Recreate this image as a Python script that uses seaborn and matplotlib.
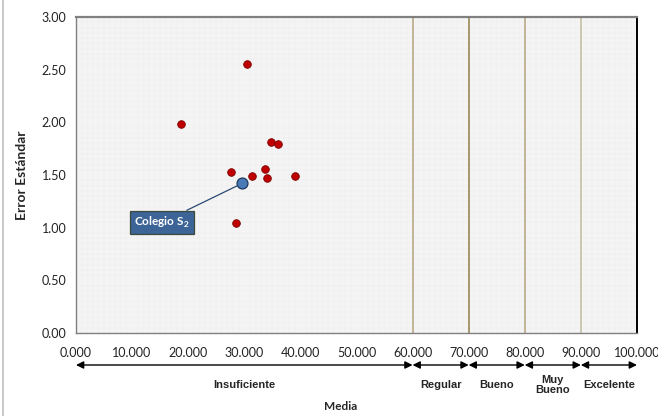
import matplotlib
matplotlib.use("Agg")
import matplotlib.pyplot as plt
import seaborn as sns
import pandas as pd
from matplotlib.lines import Line2D
from matplotlib.ticker import MultipleLocator

# Colegios: media y error estándar
media = [18.7, 30.5, 34.8, 36.0, 27.6, 31.4, 33.7, 34.1, 39.0, 28.5]
error_est = [1.98, 2.55, 1.81, 1.79, 1.53, 1.49, 1.56, 1.47, 1.49, 1.04]

# Colegio destacado
destacado_nombre = "Colegio S$_\\mathregular{2}$"
destacado_media = 29.6
destacado_error = 1.42

# Niveles de desempeño
limites = [0, 60, 70, 80, 90, 100]
niveles = ["Insuficiente", "Regular", "Bueno", "Muy\nBueno", "Excelente"]
x_ticks = [0, 10, 20, 30, 40, 50, 60, 70, 80, 90, 100]
x_tick_labels = ["0.000", "10.000", "20.000", "30.000", "40.000", "50.000",
                 "60.000", "70.000", "80.000", "90.000", "100.000"]
y_ticks = [0.0, 0.5, 1.0, 1.5, 2.0, 2.5, 3.0]
y_tick_labels = ["0.00", "0.50", "1.00", "1.50", "2.00", "2.50", "3.00"]

sns.set_theme(style="white")
plt.rcParams["font.family"] = ["Lato", "DejaVu Sans"]

fig = plt.figure(figsize=(6.58, 4.16), dpi=100)
ax = fig.add_axes([0.1155, 0.1995, 0.8525, 0.7595])
ax.set_facecolor("#f4f4f4")

df = pd.DataFrame({"Media": media, "Error": error_est})
sns.scatterplot(data=df, x="Media", y="Error", ax=ax, color="#c00000",
                edgecolor="#7a0000", linewidth=0.6, s=30, zorder=4)
sns.scatterplot(x=[destacado_media], y=[destacado_error], ax=ax,
                color="#4a7ab5", edgecolor="#1f3a5f", linewidth=0.9, s=62,
                zorder=5)

# Líneas divisorias de niveles
line_colors = ["#b3a47a", "#8c7f45", "#b3a47a", "#c2bc9a"]
for lim, c in zip(limites[1:-1], line_colors):
    ax.axvline(lim, color=c, lw=1.1, zorder=2)

ax.set_xlim(0, 100)
ax.set_ylim(0, 3)
ax.set_xticks(x_ticks)
ax.set_xticklabels(x_tick_labels)
ax.set_yticks(y_ticks)
ax.set_yticklabels(y_tick_labels)
ax.xaxis.set_minor_locator(MultipleLocator(1))
ax.yaxis.set_minor_locator(MultipleLocator(0.05))
ax.grid(which="minor", color="#ededed", lw=0.35, zorder=0)
ax.grid(which="major", visible=False)
ax.set_axisbelow(True)

ax.tick_params(axis="both", which="major", direction="out", length=4,
               width=0.8, color="#808080", labelsize=9, labelcolor="#222222")
ax.tick_params(axis="both", which="minor", length=0)
ax.tick_params(axis="x", pad=6)
ax.tick_params(axis="y", pad=3)

for side in ["left", "bottom", "top"]:
    ax.spines[side].set_color("#808080")
    ax.spines[side].set_linewidth(1.0)
ax.spines["top"].set_linewidth(1.6)
ax.spines["right"].set_color("#000000")
ax.spines["right"].set_linewidth(1.4)

ax.set_xlabel("")
ax.set_ylabel("Error Estándar", fontsize=10, fontweight="bold", labelpad=10)

# Flechas de rango y nombres de nivel
arrow_y = 1 - 365 / 416
label_y = 1 - 385 / 416
for a, b, nombre in zip(limites[:-1], limites[1:], niveles):
    ax.annotate("", xy=(a, arrow_y), xytext=(b, arrow_y),
                xycoords=("data", "figure fraction"),
                textcoords=("data", "figure fraction"),
                arrowprops=dict(arrowstyle="<|-|>", color="black", lw=1.0,
                                mutation_scale=11, shrinkA=0, shrinkB=0),
                annotation_clip=False)
    ax.annotate(nombre, xy=((a + b) / 2, label_y),
                xycoords=("data", "figure fraction"),
                ha="center", va="center", fontsize=8, fontweight="bold",
                family=["Liberation Sans", "DejaVu Sans"], linespacing=0.95,
                annotation_clip=False)

ax.annotate("Media", xy=(47.2, 1 - 407 / 416),
            xycoords=("data", "figure fraction"), ha="center", va="center",
            fontsize=8.5, fontweight="bold", annotation_clip=False)

# Etiqueta del colegio destacado
ax.annotate(destacado_nombre, xy=(destacado_media, destacado_error),
            xytext=(15.3, 1.05), textcoords="data", ha="center", va="center",
            fontsize=8.5, fontweight="bold", color="white",
            bbox=dict(boxstyle="square,pad=0.35", fc="#3c6496", ec="#3b4a3a",
                      lw=0.9),
            arrowprops=dict(arrowstyle="-", color="#2c4a72", lw=0.9,
                            shrinkA=0, shrinkB=4),
            zorder=6)

# Borde izquierdo del área del gráfico
fig.add_artist(Line2D([3 / 658, 3 / 658], [0, 1], color="#bfbfbf", lw=1.2,
                      transform=fig.transFigure))

fig.savefig("out.png", dpi=100)
